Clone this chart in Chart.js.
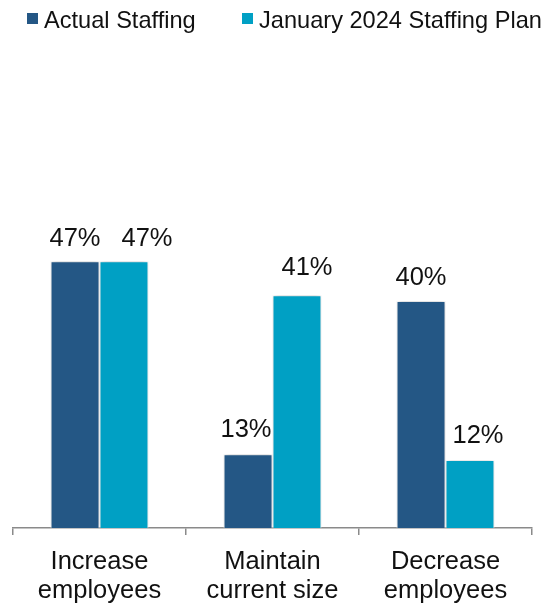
<!DOCTYPE html>
<html>
<head>
<meta charset="utf-8">
<script src="https://cdn.jsdelivr.net/npm/chart.js@4.4.1/dist/chart.umd.min.js"></script>
<style>
  html, body { margin:0; padding:0; background:#fff; }
  #wrap { position:relative; width:556px; height:604px; }
  #chart { position:absolute; left:0; top:0; }
  #legend { position:absolute; left:0; top:0; width:556px; height:40px;
    font-family:"Liberation Sans", Arial, sans-serif; font-size:23.6px; line-height:24px; color:#111; }
  #legend .item { position:absolute; top:8px; display:flex; align-items:flex-start; gap:6px; white-space:nowrap; }
  #legend .swatch { width:11px; height:11px; margin-top:5px; }
</style>
</head>
<body>
<div id="wrap">
  <canvas id="chart" width="556" height="604"></canvas>
  <div id="legend"></div>
</div>
<script>
// staffing plan vs actual, share of respondents (%)
const categories = [['Increase', 'employees'], ['Maintain', 'current size'], ['Decrease', 'employees']];
const seriesNames = ['Actual Staffing', 'January 2024 Staffing Plan'];
const actualValues = [47, 13, 40];
const planValues = [47, 41, 12];

const COLORS = ['#245785', '#00A0C4'];
const FONT = '"Liberation Sans", Arial, sans-serif';
const AXIS_GREY = '#8a8a8a';

// legend item left edges, and per-bar nudges for the value labels [dx, dy]
const LEGEND_X = [27, 242];
const LABEL_NUDGE = [
  [[0, 15], [-2, 17], [0, 16]],
  [[23, 15], [10, 20], [8, 17]],
];

// soft drop shadow under the bars
const barShadow = {
  id: 'barShadow',
  beforeDatasetsDraw(chart) {
    const ctx = chart.ctx;
    ctx.save();
    ctx.shadowColor = 'rgba(0,0,0,0.25)';
    ctx.shadowBlur = 5;
    ctx.shadowOffsetX = 0;
    ctx.shadowOffsetY = 0;
  },
  afterDatasetsDraw(chart) {
    chart.ctx.restore();
  }
};

// percent labels above each bar
const valueLabels = {
  id: 'valueLabels',
  afterDatasetsDraw(chart) {
    const ctx = chart.ctx;
    ctx.save();
    ctx.font = '25.5px ' + FONT;
    ctx.fillStyle = '#111';
    ctx.textAlign = 'center';
    ctx.textBaseline = 'alphabetic';
    chart.data.datasets.forEach((ds, di) => {
      chart.getDatasetMeta(di).data.forEach((bar, i) => {
        const [dx, dy] = LABEL_NUDGE[di][i];
        ctx.fillText(ds.data[i] + '%', bar.x + dx, bar.y - dy);
      });
    });
    ctx.restore();
  }
};

// legend built as html from the datasets
const htmlLegend = {
  id: 'htmlLegend',
  afterUpdate(chart) {
    const box = document.getElementById('legend');
    box.innerHTML = '';
    chart.data.datasets.forEach((ds, i) => {
      const item = document.createElement('div');
      item.className = 'item';
      item.style.left = LEGEND_X[i] + 'px';
      const sw = document.createElement('span');
      sw.className = 'swatch';
      sw.style.background = ds.backgroundColor;
      const txt = document.createElement('span');
      txt.textContent = ds.label;
      item.appendChild(sw);
      item.appendChild(txt);
      box.appendChild(item);
    });
  }
};

new Chart(document.getElementById('chart'), {
  type: 'bar',
  data: {
    labels: categories,
    datasets: [
      { label: seriesNames[0], data: actualValues, backgroundColor: COLORS[0] },
      { label: seriesNames[1], data: planValues, backgroundColor: COLORS[1] },
    ]
  },
  options: {
    responsive: false,
    devicePixelRatio: 1,
    animation: false,
    layout: { padding: { top: 74, left: 13, right: 24, bottom: 0 } },
    datasets: {
      bar: {
        categoryPercentage: 0.566,
        barPercentage: 1,
        borderColor: '#fff',
        borderWidth: 1,
      }
    },
    plugins: {
      legend: { display: false },
      tooltip: { enabled: false },
    },
    scales: {
      x: {
        offset: true,
        grid: {
          offset: true,
          drawOnChartArea: false,
          drawTicks: true,
          tickLength: 7,
          color: AXIS_GREY,
          lineWidth: 1.5,
        },
        border: { display: true, color: AXIS_GREY, width: 1.5 },
        ticks: {
          color: '#111',
          padding: 13,
          maxRotation: 0,
          font: { family: FONT, size: 25.5, lineHeight: 1.12 },
        },
        // keep the axis band a fixed height so the baseline sits low
        afterFit(scale) { scale.height = 76; },
      },
      y: {
        display: false,
        min: 0,
        max: 80,
      }
    }
  },
  plugins: [barShadow, valueLabels, htmlLegend]
});
</script>
</body>
</html>
